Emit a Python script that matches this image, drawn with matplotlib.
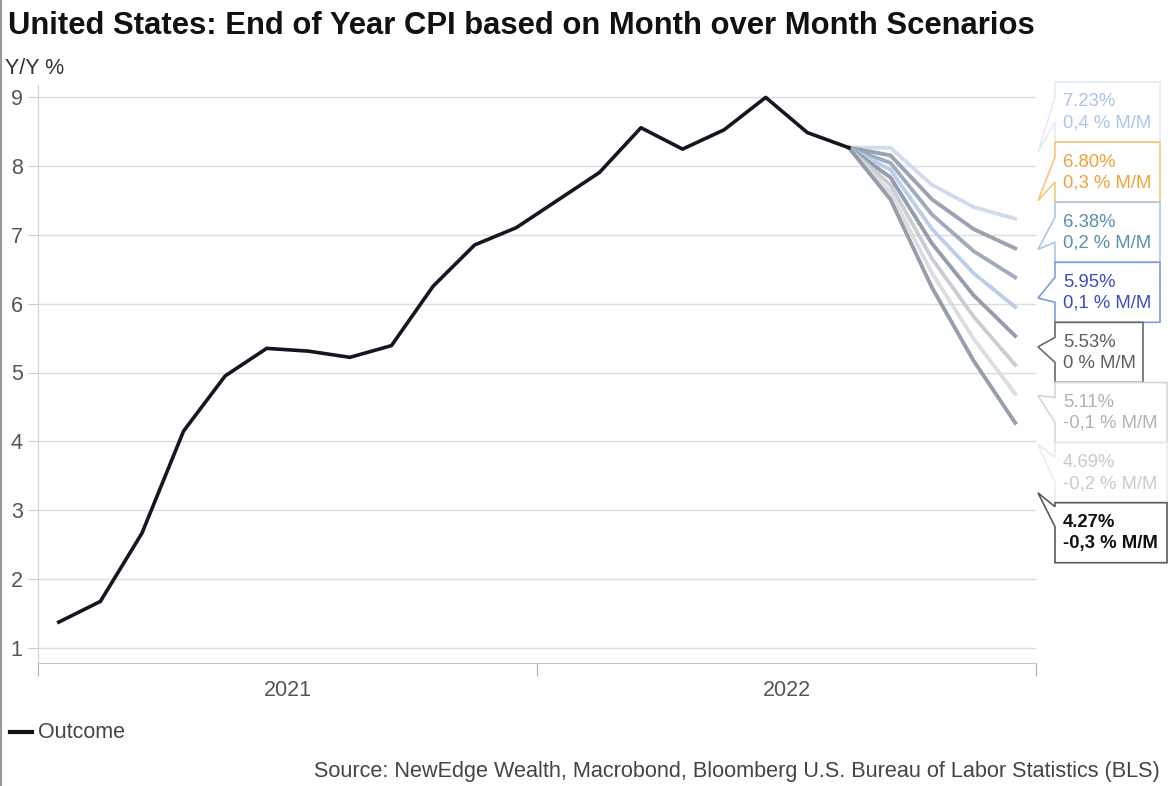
import numpy as np
import matplotlib
matplotlib.use('Agg')
import matplotlib.pyplot as plt
from matplotlib.patches import Polygon

plt.rcParams['font.family'] = ['Liberation Sans', 'DejaVu Sans']

# в”Җв”Җ data в”Җв”Җ
months = ['2021-01', '2021-02', '2021-03', '2021-04', '2021-05', '2021-06',
          '2021-07', '2021-08', '2021-09', '2021-10', '2021-11', '2021-12',
          '2022-01', '2022-02', '2022-03', '2022-04', '2022-05', '2022-06',
          '2022-07', '2022-08']
outcome = [1.38, 1.68, 2.67, 4.15, 4.95, 5.35, 5.31, 5.22, 5.39, 6.25, 6.85, 7.10,
           7.50, 7.90, 8.55, 8.24, 8.52, 8.99, 8.48, 8.26]

scen_months = ['2022-08', '2022-09', '2022-10', '2022-11', '2022-12']
scen_mm = ['0,4', '0,3', '0,2', '0,1', '0', '-0,1', '-0,2', '-0,3']
scen_vals = [
    [8.26, 8.26, 7.72, 7.40, 7.23],
    [8.26, 8.15, 7.51, 7.08, 6.80],
    [8.26, 8.04, 7.29, 6.76, 6.38],
    [8.26, 7.94, 7.08, 6.44, 5.95],
    [8.26, 7.83, 6.87, 6.12, 5.53],
    [8.26, 7.72, 6.65, 5.81, 5.11],
    [8.26, 7.61, 6.44, 5.49, 4.69],
    [8.26, 7.51, 6.23, 5.17, 4.27],
]
scen_end = ['7.23%', '6.80%', '6.38%', '5.95%', '5.53%', '5.11%', '4.69%', '4.27%']

year_labels = ['2021', '2022']

# в”Җв”Җ styles в”Җв”Җ
line_cols = ['#cbd9ea', '#8f99aa', '#96a3b6', '#b4cbe6', '#8a93a3', '#c5c8ce', '#dadada', '#8a94a4']
box_edge = ['#e3ebf5', '#f5c57a', '#aac8e0', '#7f9be0', '#6a6a6a', '#d6d6d6', '#ececec', '#5a5a5a']
box_text = ['#a9c7e8', '#f0a13a', '#5b8fae', '#3b4cc0', '#5f5f5f', '#b2b2b2', '#cacaca', '#111111']


def mpos(m):
    y, mo = m.split('-')
    return (int(y) - 2021) * 12 + int(mo) - 0.5


W, H = 1173, 786
fig = plt.figure(figsize=(W / 100, H / 100), dpi=100)
ax = fig.add_axes([38 / W, 1 - 663 / H, (1036 - 38) / W, (663 - 85) / H])

ax.set_xlim(0, 24)
ax.set_ylim(1 - (663 - 648.3) / 68.95, 9 + (96.7 - 85) / 68.95)
ax.set_yticks(range(1, 10))
ax.grid(axis='y', color='#dcdcdc', lw=1)
ax.set_axisbelow(True)
for s in ['top', 'right']:
    ax.spines[s].set_visible(False)
ax.spines['left'].set_color('#d0d0d0')
ax.spines['bottom'].set_color('#c4c4c4')
ax.tick_params(axis='y', colors='#cccccc', labelcolor='#555555', labelsize=15.5, length=7, pad=4)
ax.set_xticks([0, 12, 24])
ax.set_xticklabels([])
ax.tick_params(axis='x', which='major', colors='#b0b0b0', length=9)
ax.set_xticks([6, 18], minor=True)
ax.set_xticklabels(year_labels, minor=True)
ax.tick_params(axis='x', which='minor', length=0, pad=12, labelsize=15.5, labelcolor='#555555')

xs = [mpos(m) for m in months]
sx = [mpos(m) for m in scen_months]
for vals, c in zip(scen_vals, line_cols):
    ax.plot(sx, vals, color=c, lw=2.8, alpha=0.9, solid_joinstyle='round', zorder=2)
ax.plot(xs, outcome, color='#121722', lw=2.6, solid_joinstyle='round', zorder=3)

# в”Җв”Җ callout boxes (pixel layout) в”Җв”Җ
ov = fig.add_axes([0, 0, 1, 1], zorder=5)
ov.set_xlim(0, W); ov.set_ylim(H, 0); ov.axis('off'); ov.patch.set_alpha(0)

x0 = 1055
rights = [1160, 1160, 1160, 1160, 1143, 1167, 1167, 1167]
for i in range(8):
    top = 82 + 60.1 * i
    bot = top + 60
    tip = 152 + 48.7 * i
    if i == 7:
        b1, b2 = top + 4, top + 24
    else:
        b1, b2 = top + 15, top + 40
    poly = Polygon([(x0, top), (rights[i], top), (rights[i], bot), (x0, bot),
                    (x0, b2), (1038, tip), (x0, b1)], closed=True,
                   facecolor='white', edgecolor=box_edge[i], lw=1.2)
    ov.add_patch(poly)
    fw = 'bold' if i == 7 else 'normal'
    ov.text(1063, top + 20, scen_end[i], fontsize=13.3, color=box_text[i], va='center', fontweight=fw)
    ov.text(1063, top + 41, f'{scen_mm[i]} % M/M', fontsize=13.3, color=box_text[i], va='center', fontweight=fw)

# в”Җв”Җ texts в”Җв”Җ
fig.text(8 / W, 1 - 34 / H, 'United States: End of Year CPI based on Month over Month Scenarios',
         fontsize=22.3, fontweight='bold', color='#111111', va='baseline')
fig.text(5 / W, 1 - 68 / H, 'Y/Y %', fontsize=15.5, color='#333333', va='center')
ov.plot([10, 32], [732, 732], color='#111111', lw=3)
ov.text(38, 732, 'Outcome', fontsize=15.5, color='#444444', va='center')
fig.text(1160 / W, 1 - 772 / H, 'Source: NewEdge Wealth, Macrobond, Bloomberg U.S. Bureau of Labor Statistics (BLS)',
         fontsize=15.6, color='#444444', ha='right', va='center')
ov.plot([1, 1], [0, H], color='#999999', lw=1.5)

fig.savefig('out.png', dpi=100)
